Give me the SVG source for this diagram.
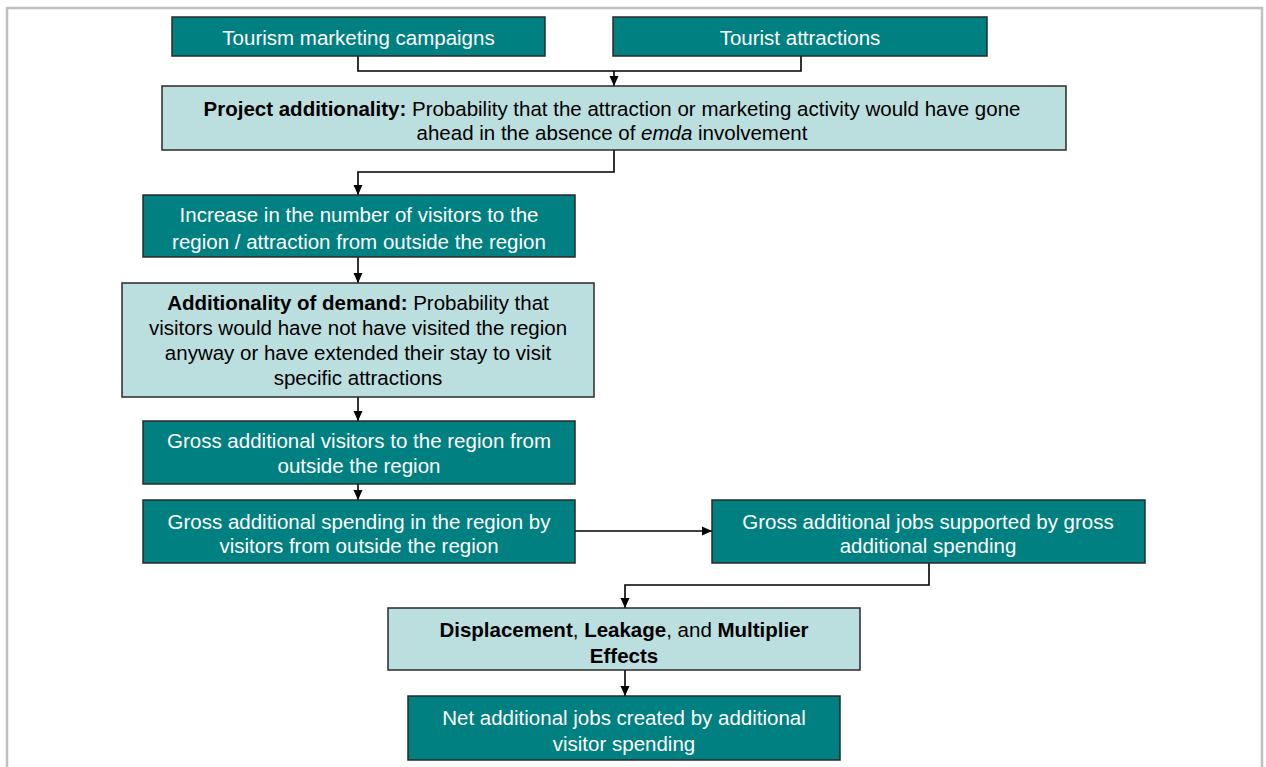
<svg xmlns="http://www.w3.org/2000/svg" width="1266" height="767" viewBox="0 0 1266 767">
<defs>
<marker id="arr" markerUnits="userSpaceOnUse" markerWidth="10" markerHeight="10" refX="10" refY="5" orient="auto">
<path d="M0,0.5 L10,5 L0,9.5 z" fill="#000"/>
</marker>
<style>
.dark rect{fill:#008080;stroke:#2a2a2a;stroke-width:1.5}
.light rect{fill:#BBDEDF;stroke:#2a2a2a;stroke-width:1.5}
text{font-family:"Liberation Sans",Arial,sans-serif;font-size:20.5px;text-anchor:middle}
.dark text{fill:#fff}
.light text{fill:#000}
.b{font-weight:bold}
.i{font-style:italic}
#connectors path{fill:none;stroke:#000;stroke-width:1.6}
</style>
</defs>
<rect x="0" y="0" width="1266" height="767" fill="#fff"/>
<rect x="7" y="8" width="1255" height="800" fill="#fff" stroke="#c0c0c0" stroke-width="2.5"/>

<g id="connectors">
<path d="M358,56 V71 H801 V56"/>
<path d="M614,71 V86" marker-end="url(#arr)"/>
<path d="M614,150 V172 H358 V195" marker-end="url(#arr)"/>
<path d="M358,257 V283" marker-end="url(#arr)"/>
<path d="M358,397 V421" marker-end="url(#arr)"/>
<path d="M358,484 V500" marker-end="url(#arr)"/>
<path d="M575,531 H712" marker-end="url(#arr)"/>
<path d="M929,563 V585 H625 V608" marker-end="url(#arr)"/>
<path d="M625,670 V696" marker-end="url(#arr)"/>
</g>

<g id="n1" class="dark">
<rect x="172" y="17" width="373" height="39"/>
<text x="358.5" y="44.5">Tourism marketing campaigns</text>
</g>
<g id="n2" class="dark">
<rect x="613" y="17" width="374" height="39"/>
<text x="800" y="44.5">Tourist attractions</text>
</g>
<g id="n3" class="light">
<rect x="162" y="86" width="904" height="64"/>
<text x="612" y="116"><tspan class="b">Project additionality:</tspan>  Probability that the attraction or marketing activity would have gone</text>
<text x="612" y="140">ahead in the absence of <tspan class="i">emda</tspan> involvement</text>
</g>
<g id="n4" class="dark">
<rect x="143" y="195" width="432" height="62"/>
<text x="359" y="222">Increase in the number of visitors to the</text>
<text x="359" y="249">region / attraction from outside the region</text>
</g>
<g id="n5" class="light">
<rect x="122" y="283" width="472" height="114"/>
<text x="358" y="310"><tspan class="b">Additionality of demand:</tspan> Probability that</text>
<text x="358" y="335">visitors would have not have visited the region</text>
<text x="358" y="360">anyway or have extended their stay to visit</text>
<text x="358" y="385">specific attractions</text>
</g>
<g id="n6" class="dark">
<rect x="143" y="421" width="432" height="63"/>
<text x="359" y="448">Gross additional visitors to the region from</text>
<text x="359" y="473">outside the region</text>
</g>
<g id="n7" class="dark">
<rect x="143" y="500" width="432" height="63"/>
<text x="359" y="529">Gross additional spending in the region by</text>
<text x="359" y="553">visitors from outside the region</text>
</g>
<g id="n8" class="dark">
<rect x="712" y="500" width="433" height="63"/>
<text x="928" y="529">Gross additional jobs supported by gross</text>
<text x="928" y="553">additional spending</text>
</g>
<g id="n9" class="light">
<rect x="388" y="608" width="472" height="62"/>
<text x="624" y="637"><tspan class="b">Displacement</tspan>, <tspan class="b">Leakage</tspan>, and <tspan class="b">Multiplier</tspan></text>
<text x="624" y="663" class="b">Effects</text>
</g>
<g id="n10" class="dark">
<rect x="408" y="696" width="432" height="64"/>
<text x="624" y="725">Net additional jobs created by additional</text>
<text x="624" y="751">visitor spending</text>
</g>
</svg>
